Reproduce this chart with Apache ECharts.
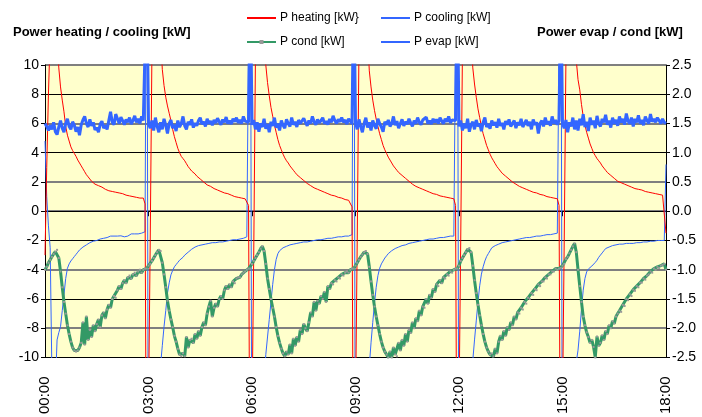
<!DOCTYPE html>
<html><head><meta charset="utf-8">
<script src="https://cdn.jsdelivr.net/npm/echarts@6/dist/echarts.min.js"></script>
<style>html,body{margin:0;padding:0;background:#fff}#c{width:702px;height:417px}</style>
</head><body><div id="c"></div>
<script>
// ---- data: one sample every 3 minutes, 00:00 ... 18:00 ----
const STEP_MIN = 3;
const timeLabels = ['00:00','03:00','06:00','09:00','12:00','15:00','18:00'];
const leftTitle = 'Power heating / cooling [kW]';
const rightTitle = 'Power evap / cond [kW]';
const seriesNames = ['P heating [kW}', 'P cooling [kW]', 'P cond [kW]', 'P evap [kW]'];

// P heating [kW] (left axis)
const heating = [
-3,3,8,12,20,22,16,12,9.8,8.5, 7.6,6.8,5.8,5.2,4.8,4.4,4.15,3.95,3.75,3.5, 3.3,3.1,2.9,2.7,2.5,2.35,2.2,2.05,1.95,1.85, 1.8,1.75,1.7,1.65,1.55,1.5,1.45,1.4,1.35,1.35, 1.3,1.3,1.3,1.25,1.25,1.2,1.15,1.1,1.1,1.05, 1.0,1.0,0.95,0.95,0.9,0.9,0.9,0.9,0.5,
-25,-25,-2,11,26,28,22,16,12,9.7, 8.6,7.8,7.2,6.7,6.2,5.6,5.1,4.7,4.3,4.0, 3.75,3.6,3.45,3.25,3.05,2.9,2.75,2.65,2.55,2.4, 2.3,2.2,2.1,2.0,1.9,1.8,1.75,1.7,1.6,1.55, 1.5,1.45,1.4,1.35,1.3,1.25,1.2,1.2,1.15,1.1, 1.05,1.0,1.0,0.95,0.9,0.9,0.85,0.85,0.8,0.4,
-25,-25,-3,10.5,25,28,23,17,12.5,10, 8.8,7.9,7.1,6.5,5.9,5.4,4.9,4.5,4.2,3.9, 3.65,3.45,3.3,3.1,2.95,2.8,2.65,2.5,2.4,2.3, 2.2,2.1,2.0,1.9,1.85,1.75,1.7,1.6,1.55,1.5, 1.45,1.4,1.35,1.3,1.25,1.2,1.15,1.1,1.1,1.05, 1.0,0.95,0.9,0.9,0.85,0.8,0.75,0.75,0.7,0.3,
-25,-25,-2,11,26,29,23,16,12,9.6, 8.5,7.6,6.9,6.3,5.8,5.3,4.9,4.5,4.2,3.95, 3.7,3.5,3.3,3.1,2.95,2.8,2.65,2.55,2.45,2.35, 2.25,2.15,2.05,1.95,1.85,1.8,1.7,1.65,1.6,1.55, 1.5,1.45,1.4,1.35,1.3,1.25,1.2,1.2,1.15,1.1, 1.05,1.05,1.0,0.95,0.95,0.9,0.9,0.85,0.85,0.4,
-25,-25,-2,11,25,28,22,16,12,9.8, 8.7,7.8,7.0,6.4,5.8,5.3,4.9,4.5,4.2,3.9, 3.65,3.45,3.25,3.05,2.9,2.75,2.6,2.5,2.4,2.3, 2.2,2.1,2.0,1.95,1.85,1.8,1.7,1.65,1.6,1.55, 1.5,1.45,1.4,1.35,1.3,1.3,1.25,1.2,1.15,1.1, 1.1,1.05,1.0,1.0,0.95,0.95,0.9,0.9,0.85,0.4,
-25,-25,-2,10.5,25,28,23,17,13,10.3, 9.0,8.3,7.3,6.5,5.9,5.4,5.0,4.6,4.3,4.0, 3.8,3.6,3.45,3.3,3.1,2.95,2.8,2.65,2.55,2.45, 2.35,2.25,2.15,2.05,2.0,1.95,1.9,1.85,1.8,1.75, 1.7,1.65,1.6,1.55,1.55,1.5,1.5,1.45,1.4,1.35, 1.3,1.3,1.25,1.25,1.2,1.2,1.15,1.15,1.1,1.1, 1.05,-1.5
];

// P cooling [kW] (left axis)
const cooling = [
4.8,1.0,-1.0,-2.5,-11,-14,-12,-8.8,-8.3,-7.9, -6.8,-5.7,-4.6,-3.9,-3.6,-3.4,-3.25,-3.1,-2.95,-2.8, -2.65,-2.55,-2.45,-2.35,-2.3,-2.25,-2.15,-2.1,-2.05,-2.0, -2.0,-1.95,-1.9,-1.9,-1.85,-1.8,-1.8,-1.75,-1.7,-1.7, -1.7,-1.7,-1.7,-1.7,-1.68,-1.7,-1.75,-1.8,-1.7,-1.6, -1.55,-1.55,-1.55,-1.55,-1.55,-1.5,-1.5,-1.5,-1.4,
25,-25,-14,-14,-14,-14,-14,-13,-10.5,-9.2, -7.9,-6.8,-5.6,-4.9,-4.35,-4.05,-3.8,-3.65,-3.5,-3.35, -3.25,-3.15,-3.0,-2.9,-2.8,-2.7,-2.6,-2.5,-2.45,-2.4, -2.35,-2.35,-2.3,-2.3,-2.25,-2.25,-2.2,-2.2,-2.15,-2.15, -2.15,-2.1,-2.1,-2.1,-2.1,-2.05,-2.05,-2.0,-2.0,-2.0, -1.95,-1.95,-1.95,-1.9,-1.9,-1.85,-1.85,-1.85,-1.75,-1.7,
25,-25,-14,-14,-14,-14,-14,-14,-12,-9.8, -8.6,-7.4,-6.2,-5.0,-4.0,-3.3,-2.9,-2.7,-2.6,-2.5, -2.45,-2.4,-2.35,-2.3,-2.3,-2.25,-2.25,-2.2,-2.2,-2.15, -2.15,-2.1,-2.1,-2.1,-2.05,-2.05,-2.0,-2.0,-2.0,-1.95, -1.95,-1.95,-1.9,-1.9,-1.9,-1.85,-1.85,-1.85,-1.8,-1.8, -1.8,-1.75,-1.75,-1.75,-1.7,-1.7,-1.7,-1.7,-1.65,-1.6,
25,-25,-14,-14,-14,-14,-14,-14,-13,-10.6, -9.0,-7.6,-6.3,-5.2,-4.4,-3.9,-3.6,-3.4,-3.2,-3.05, -2.9,-2.8,-2.7,-2.6,-2.55,-2.5,-2.45,-2.4,-2.35,-2.3, -2.3,-2.25,-2.2,-2.2,-2.15,-2.15,-2.1,-2.1,-2.05,-2.05, -2.0,-2.0,-1.95,-1.95,-1.9,-1.9,-1.9,-1.85,-1.85,-1.85, -1.8,-1.8,-1.8,-1.75,-1.75,-1.75,-1.7,-1.7,-1.7,-1.65,
25,-25,-14,-14,-14,-14,-14,-14,-12.5,-10.2, -8.8,-7.5,-6.2,-5.1,-4.3,-3.8,-3.4,-3.1,-2.9,-2.7, -2.5,-2.4,-2.35,-2.3,-2.25,-2.2,-2.15,-2.1,-2.1,-2.05, -2.05,-2.0,-2.0,-1.95,-1.95,-1.9,-1.9,-1.9,-1.85,-1.85, -1.8,-1.8,-1.8,-1.75,-1.75,-1.75,-1.7,-1.7,-1.7,-1.65, -1.65,-1.65,-1.6,-1.6,-1.6,-1.55,-1.55,-1.5,-1.5,-1.45,
25,-25,-14,-14,-14,-14,-14,-14,-12,-10.3, -9.5,-8.2,-6.7,-5.4,-4.6,-4.15,-3.95,-3.85,-3.75,-3.65, -3.5,-3.35,-3.15,-3.0,-2.85,-2.7,-2.55,-2.5,-2.45,-2.4, -2.35,-2.3,-2.3,-2.3,-2.25,-2.25,-2.25,-2.2,-2.2,-2.2, -2.2,-2.2,-2.2,-2.15,-2.15,-2.15,-2.15,-2.1,-2.1,-2.1, -2.1,-2.05,-2.05,-2.05,-2.05,-2.0,-2.0,-2.0,-2.0,-2.0, -2.0,3.2
];

// P cond [kW] (right axis)
const cond = [
-1.0,-0.95,-0.88,-0.83,-0.78,-0.73,-0.69,-0.66,-0.8,-1.03, -1.3,-1.55,-1.75,-1.95,-2.1,-2.23,-2.33,-2.38,-2.4,-2.38, -2.33,-2.25,-1.9,-2.28,-1.8,-2.2,-2.03,-2.15,-1.95,-2.05, -1.93,-1.85,-1.98,-1.78,-1.73,-1.83,-1.68,-1.6,-1.65,-1.5, -1.45,-1.48,-1.35,-1.28,-1.33,-1.23,-1.18,-1.23,-1.13,-1.1, -1.15,-1.08,-1.05,-1.1,-1.03,-1.0,-1.05,-1.0,-0.98,
-0.98,-0.93,-0.9,-0.85,-0.8,-0.75,-0.7,-0.66,-0.68,-0.88, -1.08,-1.3,-1.53,-1.7,-1.85,-1.98,-2.13,-2.23,-2.35,-2.45, -2.48,-2.43,-2.48,-2.15,-2.33,-2.2,-2.18,-2.25,-2.1,-2.18, -2.05,-2.13,-1.98,-1.9,-1.95,-1.75,-1.63,-1.53,-1.8,-1.65, -1.58,-1.63,-1.5,-1.45,-1.5,-1.35,-1.28,-1.33,-1.25,-1.3, -1.2,-1.23,-1.15,-1.13,-1.13,-1.08,-1.05,-1.03,-1.0,-0.98,
-0.98,-0.9,-0.85,-0.8,-0.75,-0.7,-0.64,-0.6,-0.68,-0.9, -1.15,-1.33,-1.5,-1.65,-1.8,-1.98,-2.13,-2.25,-2.35,-2.43, -2.48,-2.4,-2.45,-2.28,-2.43,-2.18,-2.3,-2.15,-2.23,-2.03, -2.1,-1.93,-2.0,-2.05,-1.9,-1.73,-1.8,-1.55,-1.7,-1.53, -1.58,-1.45,-1.5,-1.38,-1.55,-1.28,-1.33,-1.23,-1.25,-1.18, -1.2,-1.13,-1.15,-1.08,-1.1,-1.05,-1.03,-1.05,-1.0,-0.98,
-0.98,-0.93,-0.88,-0.83,-0.78,-0.74,-0.7,-0.68,-0.73,-0.95, -1.2,-1.43,-1.63,-1.8,-1.95,-2.1,-2.23,-2.33,-2.4,-2.45, -2.5,-2.4,-2.5,-2.33,-2.45,-2.48,-2.25,-2.38,-2.2,-2.3, -2.1,-2.23,-2.03,-2.08,-1.9,-2.0,-1.83,-1.88,-1.7,-1.78, -1.63,-1.65,-1.5,-1.58,-1.43,-1.48,-1.33,-1.38,-1.25,-1.28, -1.18,-1.23,-1.13,-1.15,-1.08,-1.1,-1.03,-1.05,-1.0,-0.98,
-0.98,-0.93,-0.85,-0.8,-0.75,-0.7,-0.65,-0.63,-0.7,-0.93, -1.18,-1.4,-1.6,-1.78,-1.95,-2.1,-2.23,-2.33,-2.4,-2.45, -2.43,-2.48,-2.35,-2.43,-2.23,-2.13,-2.2,-2.05,-2.13,-1.98, -2.03,-1.9,-1.95,-1.8,-1.85,-1.73,-1.75,-1.65,-1.68,-1.55, -1.58,-1.48,-1.5,-1.4,-1.43,-1.33,-1.35,-1.25,-1.28,-1.2, -1.2,-1.13,-1.15,-1.08,-1.08,-1.03,-1.03,-0.98,-1.0,-0.98,
-0.97,-0.93,-0.9,-0.82,-0.78,-0.72,-0.66,-0.6,-0.55,-0.7, -1.0,-1.28,-1.55,-1.8,-1.95,-2.07,-2.15,-2.25,-2.2,-2.32, -2.5,-2.14,-2.3,-2.25,-2.12,-2.2,-2.05,-2.1,-1.95,-2.0, -1.88,-1.92,-1.8,-1.75,-1.7,-1.72,-1.6,-1.62,-1.5,-1.52, -1.42,-1.45,-1.34,-1.36,-1.28,-1.3,-1.22,-1.22,-1.15,-1.17, -1.1,-1.08,-1.03,-1.05,-0.98,-1.0,-0.95,-0.97,-0.93,-0.92, -0.9,-1.0
];

// P evap [kW] (right axis)
const evap = [
1.50,1.45,1.38,1.47,1.40,1.52,1.36,1.31,1.44,1.55, 1.42,1.35,1.50,1.58,1.45,1.40,1.53,1.47,1.36,1.44, 1.30,1.48,1.56,1.62,1.50,1.44,1.57,1.46,1.52,1.39, 1.43,1.35,1.49,1.54,1.42,1.47,1.40,1.55,1.70,1.52, 1.48,1.66,1.58,1.50,1.61,1.55,1.48,1.57,1.52,1.60, 1.49,1.55,1.63,1.52,1.58,1.50,1.62,1.55,1.52,
4.0,1.5,1.42,1.55,1.38,1.6,1.45,1.35,1.52,1.4, 1.58,1.47,1.33,1.5,1.56,1.42,1.48,1.37,1.55,1.44, 1.5,1.62,1.46,1.4,1.53,1.48,1.57,1.43,1.51,1.46, 1.55,1.6,1.49,1.53,1.45,1.58,1.5,1.54,1.47,1.56, 1.51,1.59,1.53,1.48,1.57,1.52,1.61,1.5,1.55,1.49, 1.58,1.53,1.6,1.51,1.56,1.5,1.62,1.54,1.57,1.52,
4.0,1.48,1.56,1.4,1.52,1.36,1.5,1.44,1.58,1.41, 1.49,1.35,1.53,1.46,1.6,1.43,1.5,1.38,1.55,1.47, 1.42,1.57,1.5,1.45,1.6,1.48,1.53,1.44,1.56,1.5, 1.47,1.59,1.52,1.46,1.55,1.5,1.62,1.53,1.48,1.57, 1.51,1.55,1.6,1.5,1.54,1.48,1.58,1.52,1.63,1.55, 1.5,1.57,1.53,1.6,1.52,1.56,1.49,1.58,1.54,1.5,
4.0,1.52,1.4,1.57,1.45,1.35,1.5,1.6,1.43,1.52, 1.38,1.55,1.47,1.41,1.58,1.5,1.44,1.36,1.53,1.48, 1.56,1.45,1.5,1.62,1.47,1.54,1.42,1.5,1.57,1.46, 1.53,1.49,1.58,1.51,1.45,1.55,1.5,1.6,1.52,1.48, 1.56,1.53,1.61,1.5,1.55,1.49,1.58,1.52,1.57,1.5, 1.6,1.54,1.5,1.58,1.53,1.62,1.51,1.56,1.53,1.55,
4.0,1.45,1.55,1.38,1.5,1.42,1.58,1.36,1.48,1.53, 1.4,1.56,1.45,1.5,1.37,1.52,1.6,1.44,1.49,1.41, 1.55,1.47,1.52,1.43,1.58,1.46,1.51,1.4,1.54,1.48, 1.57,1.45,1.5,1.55,1.42,1.52,1.47,1.58,1.44,1.5, 1.56,1.46,1.53,1.4,1.57,1.48,1.52,1.33,1.5,1.55, 1.45,1.6,1.49,1.54,1.46,1.62,1.5,1.56,1.48,1.55,
4.0,1.5,1.42,1.56,1.35,1.52,1.45,1.6,1.4,1.55, 1.38,1.58,1.47,1.66,1.44,1.53,1.37,1.6,1.48,1.55, 1.42,1.63,1.5,1.45,1.58,1.52,1.65,1.48,1.55,1.43, 1.6,1.5,1.56,1.46,1.62,1.52,1.58,1.48,1.67,1.54, 1.5,1.6,1.45,1.58,1.52,1.64,1.5,1.56,1.47,1.62, 1.55,1.5,1.66,1.53,1.58,1.52,1.6,1.55,1.5,1.58, 1.52,1.5
];

// ---- chart ----
const FONT = '"Liberation Sans", Arial, Helvetica, sans-serif';
const toPairs = arr => arr.map((v, i) => [i * STEP_MIN, v]);
const T = 'transparent', K = '#000000', G = '#7f7f7f';

const chart = echarts.init(document.getElementById('c'), null, {renderer: 'canvas'});
chart.setOption({
  animation: false,
  backgroundColor: '#ffffff',
  textStyle: {fontFamily: FONT},
  title: [
    {text: leftTitle, left: 13, top: 26, padding: 0,
     textStyle: {fontFamily: FONT, fontSize: 13, fontWeight: 'bold', color: '#000'}},
    {text: rightTitle, left: 537, top: 26, padding: 0,
     textStyle: {fontFamily: FONT, fontSize: 13, fontWeight: 'bold', color: '#000'}}
  ],
  legend: [
    {orient: 'vertical', left: 246, top: 12, padding: 0, itemWidth: 29, itemHeight: 5, itemGap: 12,
     selectedMode: false, itemStyle: {opacity: 0},
     textStyle: {fontFamily: FONT, fontSize: 12, color: '#000', padding: [0, 0, 0, -1]},
     data: [{name: seriesNames[0]}, {name: seriesNames[2], itemStyle: {opacity: 1}}]},
    {orient: 'vertical', left: 380, top: 12, padding: 0, itemWidth: 29, itemHeight: 5, itemGap: 12,
     selectedMode: false, itemStyle: {opacity: 0},
     textStyle: {fontFamily: FONT, fontSize: 12, color: '#000', padding: [0, 0, 0, -1]},
     data: [{name: seriesNames[1]}, {name: seriesNames[3]}]}
  ],
  grid: {left: 45, right: 36, top: 65, bottom: 59, show: true,
         backgroundColor: '#FFFFCC', borderWidth: 0},
  xAxis: {
    type: 'value', min: 0, max: 1080, interval: 180,
    axisLine: {show: true, lineStyle: {color: '#000', width: 1}},
    axisTick: {show: true, length: 5, lineStyle: {color: '#000'}},
    splitLine: {show: false},
    axisLabel: {rotate: 90, margin: 19, fontSize: 15, color: '#000', fontFamily: FONT,
                formatter: v => timeLabels[Math.round(v / 180)]}
  },
  yAxis: [
    {type: 'value', min: -10, max: 10, interval: 2, position: 'left',
     axisLine: {show: true, onZero: false, lineStyle: {color: '#000'}},
     axisTick: {show: true, length: 4, lineStyle: {color: '#000'}},
     axisLabel: {fontSize: 14, color: '#000', margin: 6, fontFamily: FONT},
     splitLine: {show: true, lineStyle: {width: 1, color: [K, T, K, T, K, T, T, K, T, K, T]}}},
    {type: 'value', min: -2.5, max: 2.5, interval: 0.5, position: 'right',
     axisLine: {show: true, onZero: false, lineStyle: {color: '#000'}},
     axisTick: {show: true, length: 4, lineStyle: {color: '#000'}},
     axisLabel: {fontSize: 14, color: '#000', margin: 6, fontFamily: FONT, formatter: v => v.toFixed(1)},
     splitLine: {show: true, lineStyle: {width: 2, color: [T, G, T, G, T, G, G, T, G, T, G]}}}
  ],
  series: [
    {name: seriesNames[1], type: 'line', yAxisIndex: 0, data: toPairs(cooling),
     symbol: 'none', lineStyle: {color: '#3366FF', width: 1}, itemStyle: {color: '#3366FF'}},
    {name: seriesNames[0], type: 'line', yAxisIndex: 0, data: toPairs(heating),
     symbol: 'none', lineStyle: {color: '#FF0000', width: 1}, itemStyle: {color: '#FF0000'}},
    {name: seriesNames[2], type: 'line', yAxisIndex: 1, data: toPairs(cond),
     symbol: 'rect', symbolSize: 2, showAllSymbol: true,
     lineStyle: {color: '#339966', width: 3}, itemStyle: {color: '#999999'}},
    {name: seriesNames[3], type: 'line', yAxisIndex: 1, data: toPairs(evap),
     symbol: 'none', lineStyle: {color: '#3366FF', width: 3}, itemStyle: {color: '#3366FF'}}
  ]
});
</script></body></html>
